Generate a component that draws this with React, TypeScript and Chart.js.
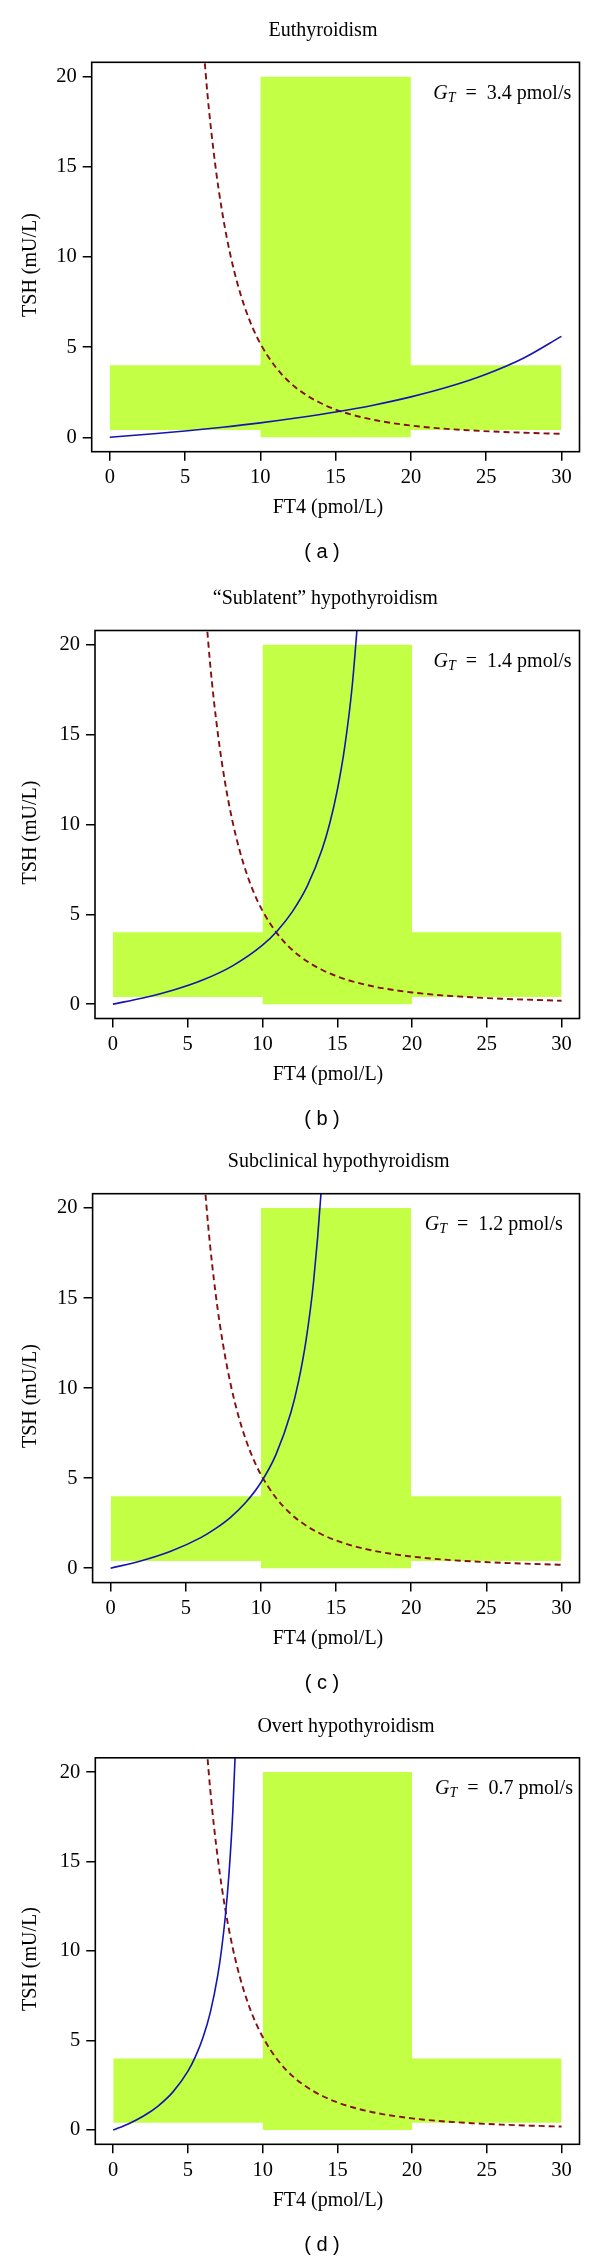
import React, { useEffect, useRef } from 'react';
import { Chart, registerables } from 'chart.js';

Chart.register(...registerables);

// ---------- data ----------
const panelTitles = [
  'Euthyroidism',
  '\u201CSublatent\u201D hypothyroidism',
  'Subclinical hypothyroidism',
  'Overt hypothyroidism',
];
const panelLetters = ['a', 'b', 'c', 'd'];
const gtValues = ['3.4', '1.4', '1.2', '0.7'];

const xTicks = [0, 5, 10, 15, 20, 25, 30];
const yTicks = [0, 5, 10, 15, 20];

// reference ranges (green areas)
const bandFT4 = [0, 30];
const bandTSH = [0.4, 4.0];
const columnFT4 = [10, 20];
const columnTSH = [0, 20];

// pituitary response curve (dark red dashed), identical in all panels
const pituitaryFT4 = [6.0, 6.5, 7, 7.5, 8, 8.5, 9, 9.5, 10, 11, 12, 13, 14, 15, 16, 17, 18, 20, 22, 24, 26, 28, 30];
const pituitaryTSH = [24.07, 18.94, 15.16, 12.33, 10.16, 8.47, 7.13, 6.06, 5.2, 3.91, 3.01, 2.37, 1.9, 1.54, 1.27, 1.06, 0.89, 0.65, 0.49, 0.38, 0.3, 0.24, 0.19];

// thyroid response curves (blue), one per panel
const thyroidFT4A = [0, 2.5, 5, 7.5, 10, 12.5, 15, 17.5, 20, 22.5, 25, 27.5, 30];
const thyroidTSHA = [0, 0.17, 0.35, 0.56, 0.8, 1.08, 1.4, 1.78, 2.24, 2.8, 3.5, 4.4, 5.6];

const thyroidFT4B = [0, 2, 4, 6, 8, 10, 11, 12, 13, 14, 14.5, 15, 15.5, 16, 16.5];
const thyroidTSHB = [0, 0.34, 0.77, 1.34, 2.13, 3.28, 4.09, 5.15, 6.58, 8.65, 10.07, 11.9, 14.32, 17.71, 22.76];

const thyroidFT4C = [0, 2, 4, 6, 7, 8, 9, 10, 11, 12, 12.5, 13, 13.5, 14, 14.3];
const thyroidTSHC = [0, 0.4, 0.94, 1.7, 2.21, 2.84, 3.66, 4.76, 6.31, 8.66, 10.36, 12.64, 15.88, 20.85, 25.3];

const thyroidFT4D = [0, 1, 2, 3, 4, 5, 5.5, 6, 6.5, 7, 7.25, 7.5, 7.75, 8, 8.25];
const thyroidTSHD = [0, 0.34, 0.77, 1.34, 2.13, 3.29, 4.1, 5.15, 6.59, 8.67, 10.1, 11.93, 14.37, 17.78, 22.87];

const thyroidFT4 = [thyroidFT4A, thyroidFT4B, thyroidFT4C, thyroidFT4D];
const thyroidTSH = [thyroidTSHA, thyroidTSHB, thyroidTSHC, thyroidTSHD];

// ---------- layout / style ----------
const panelLayout = [
  { top: 0, height: 565, boxTop: 62.3, boxBottom: 451.7, boxLeft: 91.7, titleX: 323, annX: 433.3 },
  { top: 565, height: 565, boxTop: 65.5, boxBottom: 453.5, boxLeft: 95, titleX: 325.3, annX: 433.6 },
  { top: 1130, height: 565, boxTop: 63.7, boxBottom: 452.6, boxLeft: 92.6, titleX: 338.7, annX: 424.8 },
  { top: 1695, height: 564, boxTop: 62.8, boxBottom: 449.3, boxLeft: 95.3, titleX: 346, annX: 435 },
];
const BOX_RIGHT = 579.5;
const SERIF = '"Liberation Serif", "Times New Roman", serif';
const SANS = '"Liberation Sans", Arial, sans-serif';
const GREEN = '#C3FF44';
const BLUE = '#1414b4';
const RED = '#850f0f';

const decorPlugin = {
  id: 'decor',
  afterDraw(chart: any, _args: any, o: any) {
    const ctx = chart.ctx;
    const a = chart.chartArea;
    ctx.save();
    ctx.strokeStyle = '#000';
    ctx.lineWidth = 1.6;
    ctx.strokeRect(a.left, a.top, a.right - a.left, a.bottom - a.top);

    ctx.fillStyle = '#000';
    ctx.textBaseline = 'middle';
    ctx.textAlign = 'center';
    ctx.font = `20px ${SERIF}`;
    ctx.fillText(o.title, o.titleX, a.top - 31.5);
    ctx.fillText('FT4 (pmol/L)', 328, a.bottom + 56);

    ctx.save();
    ctx.translate(30.7, (a.top + a.bottom) / 2 + 8);
    ctx.rotate(-Math.PI / 2);
    ctx.fillText('TSH (mU/L)', 0, 0);
    ctx.restore();

    // annotation G_T = x pmol/s
    ctx.textAlign = 'left';
    let x = o.annX;
    const y = a.top + 31;
    ctx.font = `italic 20px ${SERIF}`;
    ctx.fillText('G', x, y);
    x += ctx.measureText('G').width;
    ctx.font = `italic 14px ${SERIF}`;
    ctx.fillText('T', x, y + 5);
    x += ctx.measureText('T').width;
    ctx.font = `20px ${SERIF}`;
    ctx.fillText(`  =  ${o.gt} pmol/s`, x, y);

    ctx.textAlign = 'center';
    ctx.font = `20px ${SANS}`;
    ctx.fillText(`( ${o.letter} )`, 322, a.bottom + 101);
    ctx.restore();
  },
};

const toPts = (xs: number[], ys: number[]) => xs.map((v, i) => ({ x: v, y: ys[i] }));

function Panel({ idx }: { idx: number }) {
  const ref = useRef<HTMLCanvasElement>(null);
  const L = panelLayout[idx];
  useEffect(() => {
    const canvas = ref.current;
    if (!canvas) return;
    const H = L.height;
    const tickFont = { family: SERIF, size: 20.5 };
    const gridOpts = {
      display: true,
      drawOnChartArea: false,
      drawTicks: true,
      tickLength: 9,
      color: '#000',
      lineWidth: 1.5,
    };
    const chart = new Chart(canvas, {
      type: 'scatter',
      data: {
        datasets: [
          {
            label: 'thyroid',
            data: toPts(thyroidFT4[idx], thyroidTSH[idx]),
            showLine: true,
            borderColor: BLUE,
            borderWidth: 1.6,
            pointRadius: 0,
            cubicInterpolationMode: 'monotone',
            capBezierPoints: false,
            fill: false,
            order: 0,
            clip: 0,
          } as any,
          {
            label: 'pituitary',
            data: toPts(pituitaryFT4, pituitaryTSH),
            showLine: true,
            borderColor: RED,
            borderWidth: 1.9,
            borderDash: [6, 4],
            pointRadius: 0,
            cubicInterpolationMode: 'monotone',
            capBezierPoints: false,
            fill: false,
            order: 1,
            clip: 0,
          } as any,
          {
            label: 'TSH reference band',
            data: toPts(bandFT4, [bandTSH[1], bandTSH[1]]),
            showLine: true,
            borderColor: 'rgba(0,0,0,0)',
            borderWidth: 0,
            backgroundColor: GREEN,
            fill: { value: bandTSH[0] },
            pointRadius: 0,
            order: 2,
          } as any,
          {
            label: 'FT4 reference column',
            data: toPts(columnFT4, [columnTSH[1], columnTSH[1]]),
            showLine: true,
            borderColor: 'rgba(0,0,0,0)',
            borderWidth: 0,
            backgroundColor: GREEN,
            fill: { value: columnTSH[0] },
            pointRadius: 0,
            order: 3,
          } as any,
        ],
      },
      options: {
        animation: false,
        responsive: false,
        devicePixelRatio: 1,
        events: [],
        layout: { padding: { top: L.boxTop, right: 600 - BOX_RIGHT, left: 0, bottom: 0 } },
        plugins: {
          legend: { display: false },
          tooltip: { enabled: false },
          title: { display: false },
          decor: {
            title: panelTitles[idx],
            titleX: L.titleX,
            annX: L.annX,
            gt: gtValues[idx],
            letter: panelLetters[idx],
          },
        } as any,
        scales: {
          x: {
            type: 'linear',
            position: 'bottom',
            min: -1.2,
            max: 31.2,
            afterBuildTicks: (s: any) => {
              s.ticks = xTicks.map((v) => ({ value: v }));
            },
            afterFit: (s: any) => {
              s.height = H - L.boxBottom;
            },
            grid: gridOpts,
            border: { display: false },
            ticks: { autoSkip: false, maxRotation: 0, padding: 5, color: '#000', font: tickFont },
          },
          y: {
            type: 'linear',
            position: 'left',
            min: -0.8,
            max: 20.8,
            afterBuildTicks: (s: any) => {
              s.ticks = yTicks.map((v) => ({ value: v }));
            },
            afterFit: (s: any) => {
              s.width = L.boxLeft;
            },
            grid: gridOpts,
            border: { display: false },
            ticks: { autoSkip: false, padding: 6, color: '#000', font: tickFont },
          },
        },
      } as any,
      plugins: [decorPlugin],
    });
    return () => chart.destroy();
  }, [idx]);
  return (
    <canvas
      ref={ref}
      width={600}
      height={L.height}
      style={{ position: 'absolute', left: 0, top: L.top, width: 600, height: L.height, display: 'block' }}
    />
  );
}

export default function App() {
  return (
    <div style={{ position: 'absolute', left: 0, top: 0, width: 600, height: 2259, background: '#fff', overflow: 'hidden' }}>
      {panelLayout.map((_, i) => (
        <Panel key={i} idx={i} />
      ))}
    </div>
  );
}
